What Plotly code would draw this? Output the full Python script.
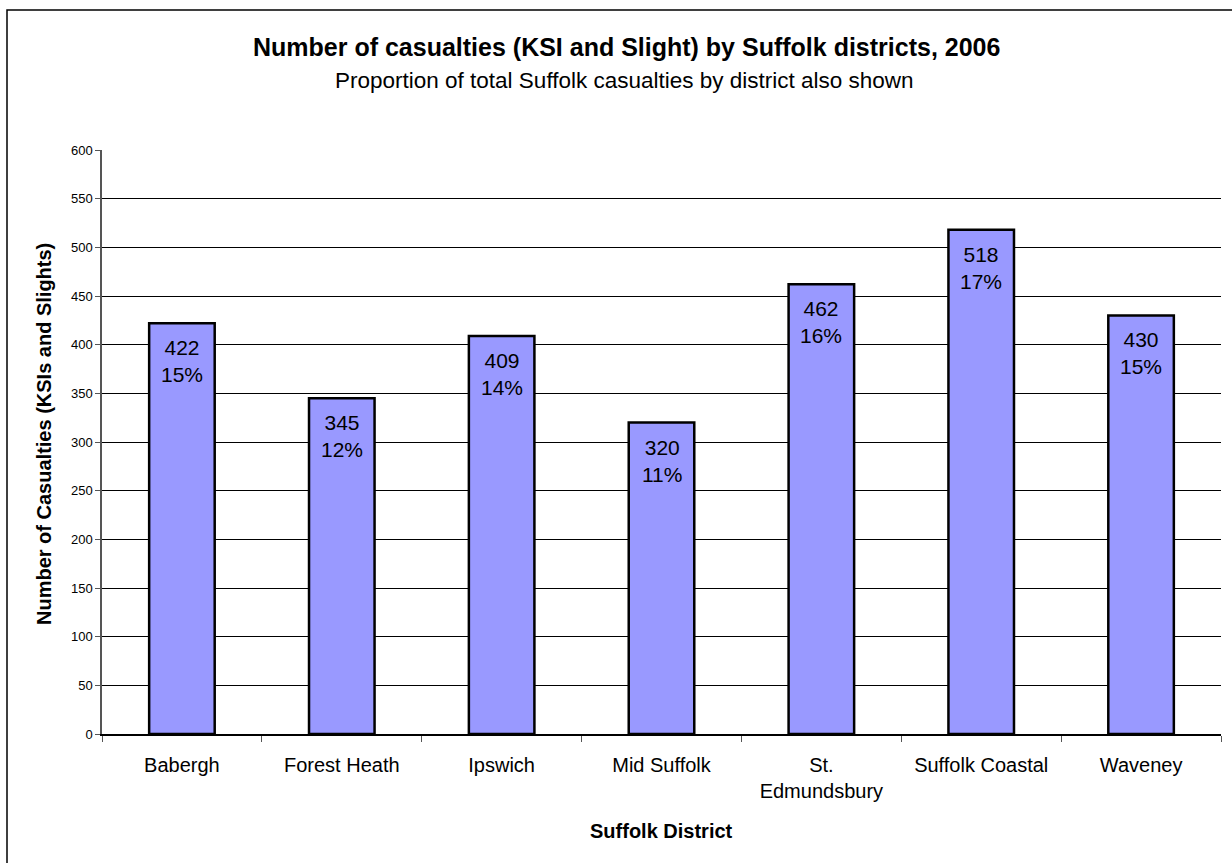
import plotly.graph_objects as go

districts = ["Babergh", "Forest Heath", "Ipswich", "Mid Suffolk",
             "St.<br>Edmundsbury", "Suffolk Coastal", "Waveney"]
casualties = [422, 345, 409, 320, 462, 518, 430]
share_pct = [15, 12, 14, 11, 16, 17, 15]
y_ticks = [0, 50, 100, 150, 200, 250, 300, 350, 400, 450, 500, 550, 600]

FONT = "Liberation Sans, Arial, sans-serif"

# plot area in pixels: x 102..1221, y 150..734
L, R, T, B = 102, 1221, 150, 734
W, H = 1232, 863


def px_x(p):
    return (p - L) / (R - L)


def px_y(p):
    return (B - p) / (B - T)


fig = go.Figure(
    go.Bar(
        x=districts,
        y=casualties,
        marker=dict(color="#9999FF", line=dict(color="black", width=2.5)),
        cliponaxis=False,
    )
)

# value and share labels just inside the top of each bar
bar_labels = [
    dict(x=d, y=v, xref="x", yref="y", text=f"{v}<br>{p}%",
         showarrow=False, yanchor="top", xanchor="center", yshift=-11,
         font=dict(family=FONT, size=21, color="black"))
    for d, v, p in zip(districts, casualties, share_pct)
]

fig.update_layout(
    width=W,
    height=H,
    margin=dict(l=L, r=W - R, t=T, b=H - B),
    plot_bgcolor="white",
    paper_bgcolor="white",
    bargap=0.59,
    showlegend=False,
    font=dict(family=FONT, color="black"),
    xaxis=dict(
        type="category",
        showgrid=False,
        showline=True,
        linecolor="black",
        linewidth=1.5,
        ticks="outside",
        tickson="boundaries",
        ticklen=6,
        tickcolor="#555",
        ticklabelstandoff=12,
        tickfont=dict(family=FONT, size=20, color="black"),
    ),
    yaxis=dict(
        range=[0, 600],
        tickvals=y_ticks,
        showgrid=True,
        gridcolor="black",
        gridwidth=1,
        showline=True,
        linecolor="#555",
        linewidth=1.5,
        ticks="outside",
        ticklen=5,
        tickcolor="#555",
        tickfont=dict(family=FONT, size=13, color="black"),
        zeroline=False,
    ),
    shapes=[
        dict(type="rect", xref="paper", yref="paper",
             x0=px_x(7), x1=px_x(1245), y0=px_y(875), y1=px_y(10),
             line=dict(color="black", width=1.5), fillcolor="rgba(0,0,0,0)",
             layer="below"),
    ],
    annotations=bar_labels + [
        dict(text="<b>Number of casualties (KSI and Slight) by Suffolk districts, 2006</b>",
             x=px_x(626), y=px_y(47), xref="paper", yref="paper",
             xanchor="center", yanchor="middle",
             showarrow=False, font=dict(family=FONT, size=25, color="black")),
        dict(text="Proportion of total Suffolk casualties by district also shown",
             x=px_x(624), y=px_y(80), xref="paper", yref="paper",
             xanchor="center", yanchor="middle",
             showarrow=False, font=dict(family=FONT, size=22.5, color="black")),
        dict(text="<b>Number of Casualties (KSIs and Slights)</b>",
             x=px_x(44), y=px_y(434), xref="paper", yref="paper",
             xanchor="center", yanchor="middle",
             textangle=-90, showarrow=False,
             font=dict(family=FONT, size=20, color="black")),
        dict(text="<b>Suffolk District</b>",
             x=px_x(661), y=px_y(831), xref="paper", yref="paper",
             xanchor="center", yanchor="middle",
             showarrow=False, font=dict(family=FONT, size=20, color="black")),
    ],
)

fig.write_html("out.html")
